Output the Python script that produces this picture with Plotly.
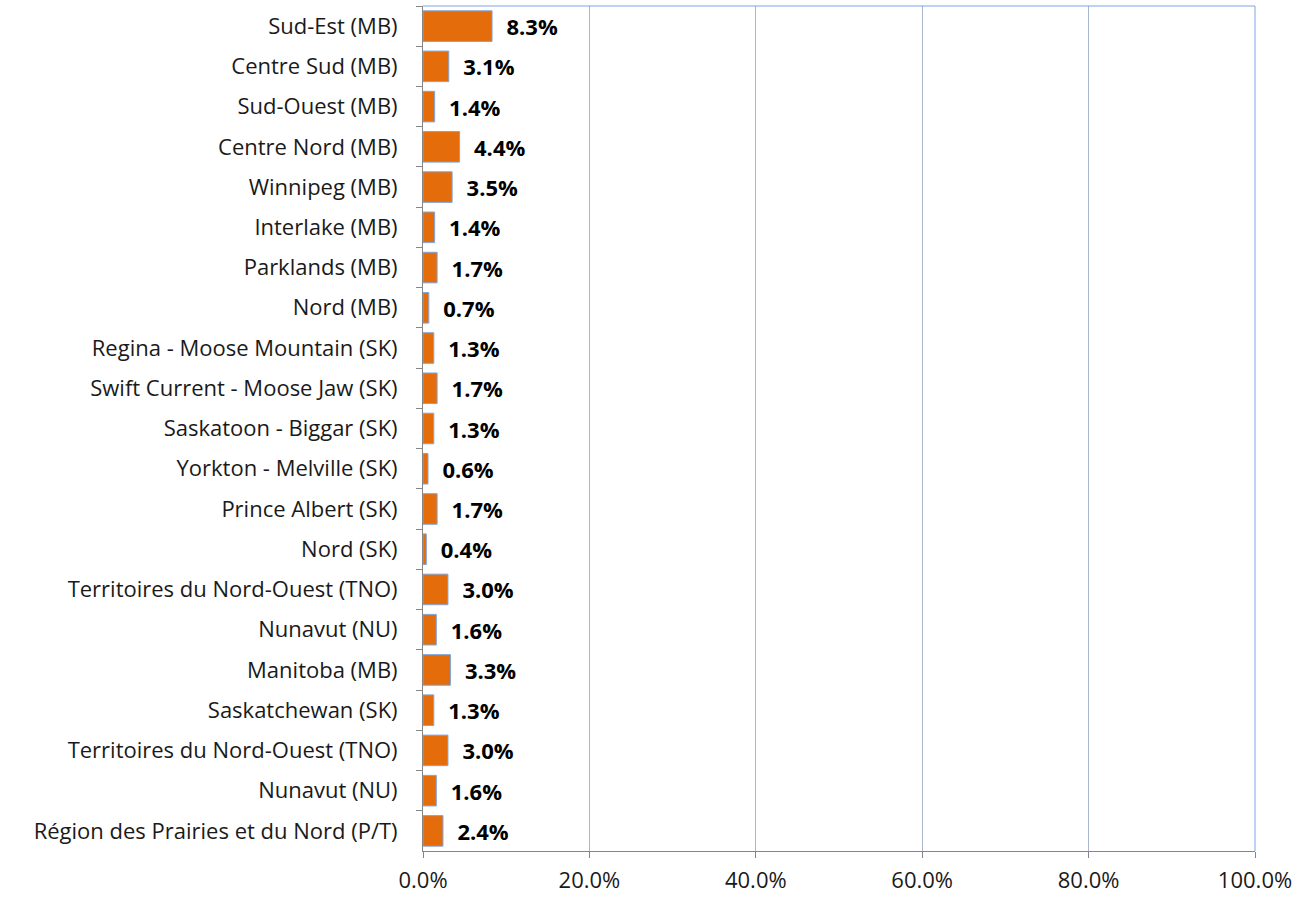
import plotly.graph_objects as go

# Data
regions = [
    "Sud-Est (MB)", "Centre Sud (MB)", "Sud-Ouest (MB)", "Centre Nord (MB)",
    "Winnipeg (MB)", "Interlake (MB)", "Parklands (MB)", "Nord (MB)",
    "Regina - Moose Mountain (SK)", "Swift Current - Moose Jaw (SK)",
    "Saskatoon - Biggar (SK)", "Yorkton - Melville (SK)", "Prince Albert (SK)",
    "Nord (SK)", "Territoires du Nord-Ouest (TNO)", "Nunavut (NU)",
    "Manitoba (MB)", "Saskatchewan (SK)", "Territoires du Nord-Ouest (TNO)",
    "Nunavut (NU)", "Région des Prairies et du Nord (P/T)",
]
values = [8.3, 3.1, 1.4, 4.4, 3.5, 1.4, 1.7, 0.7, 1.3, 1.7, 1.3, 0.6, 1.7,
          0.4, 3.0, 1.6, 3.3, 1.3, 3.0, 1.6, 2.4]
x_ticks = [0, 20, 40, 60, 80, 100]
x_ticktext = ["0.0%", "20.0%", "40.0%", "60.0%", "80.0%", "100.0%"]

# names repeat, so place bars by position and label the axis with the names
pos = list(range(len(regions)))

fig = go.Figure(go.Bar(
    x=values, y=pos, orientation="h",
    marker=dict(color="#E46C0A", line=dict(color="#7EA6E0", width=1)),
    text=[f"  {v:.1f}%" for v in values], textposition="outside",
    textfont=dict(size=22, family="Open Sans", color="black", weight="bold"),
    cliponaxis=False,
))

fig.update_layout(
    width=1300, height=899,
    margin=dict(l=423, r=45, t=6, b=48),
    paper_bgcolor="white", plot_bgcolor="white",
    bargap=0.24, showlegend=False,
    font=dict(family="Open Sans", size=22, color="#1a1a1a"),
)

fig.update_xaxes(
    range=[0, 100], tickvals=x_ticks, ticktext=x_ticktext,
    showgrid=True, gridcolor="#A9B6CC", gridwidth=1,
    showline=True, linecolor="#868686", linewidth=1,
    ticks="outside", ticklen=6, tickcolor="#868686",
    ticklabelstandoff=4, zeroline=False, mirror=False,
)
fig.update_yaxes(
    range=[len(regions) - 0.5, -0.5], tickvals=pos, ticktext=regions,
    showline=True, linecolor="#868686", linewidth=1, showgrid=False,
    ticks="", ticklabelstandoff=20,
    minor=dict(tickvals=[p + 0.5 for p in pos[:-1]] + [-0.5],
               ticks="outside", ticklen=6, tickcolor="#868686", showgrid=False),
    zeroline=False,
)

# plot area border on top and right
fig.add_shape(type="line", xref="paper", yref="paper", x0=0, x1=1, y0=1, y1=1,
              line=dict(color="#7EA6E0", width=1))
fig.add_shape(type="line", xref="paper", yref="paper", x0=1, x1=1, y0=0, y1=1,
              line=dict(color="#7EA6E0", width=1))

fig.write_html("out.html", config={"displayModeBar": False},
               post_script="document.body.style.margin='0';")
